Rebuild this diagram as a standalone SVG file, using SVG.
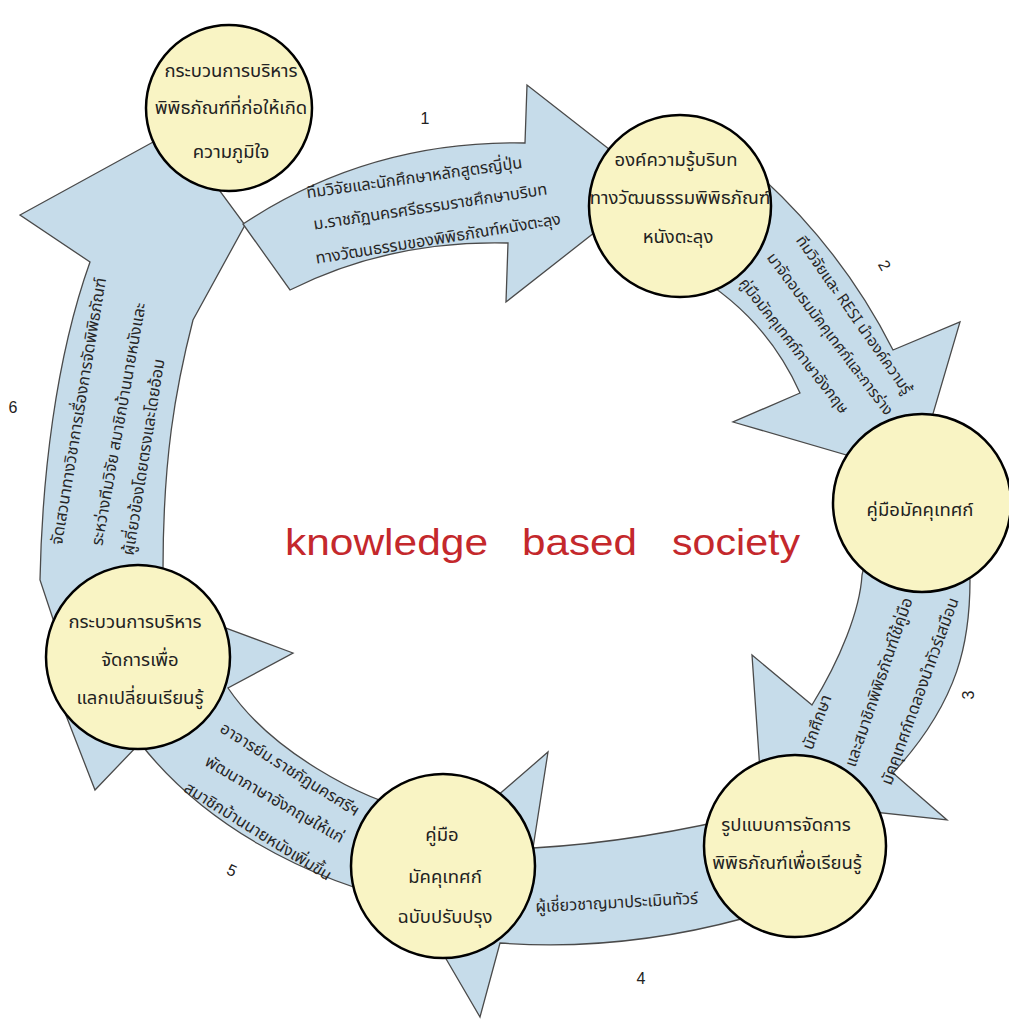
<svg xmlns="http://www.w3.org/2000/svg" width="1009" height="1023" viewBox="0 0 1009 1023">
<style>
.arrow{fill:#c6dcea;stroke:#4a4a4a;stroke-width:1.3;stroke-linejoin:miter}
.node{fill:#f9f4c4;stroke:#000;stroke-width:2.5}
.nt{font-family:"Noto Sans Thai","Noto Sans","DejaVu Sans",sans-serif;font-size:18.5px;fill:#222;text-anchor:middle}
.at{font-family:"Noto Sans Thai","Noto Sans","DejaVu Sans",sans-serif;font-size:16.3px;fill:#262626;text-anchor:middle}
.num{font-family:"Liberation Sans",Arial,sans-serif;font-size:16px;fill:#222;text-anchor:middle}
.title{font-family:"Liberation Sans",Arial,sans-serif;font-size:37px;fill:#c4282c}
</style>
<rect width="1009" height="1023" fill="#ffffff"/>
<g id="connectors">
  <path id="arrow6" class="arrow" d="M20,215 L175,130 L245,225 L193,320 C175,390 163,460 163,570 L170,620 L60,640 L40,580 C42,480 55,360 90,262 Z"/>
  <path id="arrow1" class="arrow" d="M243,224 L290,290 Q390,240 508,243 L506,302 L655,185 L527,85 L525,143 Q370,140 243,224 Z"/>
  <path id="arrow2" class="arrow" d="M730,150 Q835,235 893,350 L960,322 L915,475 L733,422 L800,393 Q765,315 690,272 Z"/>
  <path id="arrow3" class="arrow" d="M870,540 L960,540 L970,580 C970,640 960,700 893,773 L947,820 L762,800 L752,655 L812,705 C840,660 860,610 862,575 Z"/>
  <path id="arrow4" class="arrow" d="M760,812 Q640,842 533,848 L548,752 L400,880 L480,1017 L500,943 Q620,952 745,918 Z"/>
  <path id="arrow5" class="arrow" d="M420,812 C360,800 270,750 228,688 L293,653 L150,600 L62,705 L95,790 L140,743 C200,820 300,880 420,905 Z"/>
</g>
<g id="nodes">
  <g id="node1">
    <circle class="node" cx="229" cy="108" r="83"/>
    <text class="nt" x="231" y="77">กระบวนการบริหาร</text>
    <text class="nt" x="231" y="114">พิพิธภัณฑ์ที่ก่อให้เกิด</text>
    <text class="nt" x="231" y="158">ความภูมิใจ</text>
  </g>
  <g id="node2">
    <circle class="node" cx="680" cy="206" r="91"/>
    <text class="nt" x="676" y="166">องค์ความรู้บริบท</text>
    <text class="nt" x="680" y="204">ทางวัฒนธรรมพิพิธภัณฑ์</text>
    <text class="nt" x="678" y="243">หนังตะลุง</text>
  </g>
  <g id="node3">
    <circle class="node" cx="922" cy="503" r="89"/>
    <text class="nt" x="920" y="516">คู่มือมัคคุเทศก์</text>
  </g>
  <g id="node4">
    <circle class="node" cx="795" cy="846" r="91"/>
    <text class="nt" x="786" y="831">รูปแบบการจัดการ</text>
    <text class="nt" x="787" y="869">พิพิธภัณฑ์เพื่อเรียนรู้</text>
  </g>
  <g id="node5">
    <circle class="node" cx="443" cy="866" r="92"/>
    <text class="nt" x="442" y="841">คู่มือ</text>
    <text class="nt" x="445" y="883">มัคคุเทศก์</text>
    <text class="nt" x="445" y="923">ฉบับปรับปรุง</text>
  </g>
  <g id="node6">
    <circle class="node" cx="138" cy="657" r="92"/>
    <text class="nt" x="135" y="628">กระบวนการบริหาร</text>
    <text class="nt" x="140" y="666">จัดการเพื่อ</text>
    <text class="nt" x="140" y="704">แลกเปลี่ยนเรียนรู้</text>
  </g>
</g>
<g id="connector-labels">
  <text class="at" transform="translate(415,183) rotate(-8)">ทีมวิจัยและนักศึกษาหลักสูตรญี่ปุ่น</text>
  <text class="at" transform="translate(431,212) rotate(-8.6)">ม.ราชภัฏนครศรีธรรมราชศึกษาบริบท</text>
  <text class="at" transform="translate(439,244) rotate(-9.2)">ทางวัฒนธรรมของพิพิธภัณฑ์หนังตะลุง</text>
  <text class="num" x="425" y="124">1</text>

  <text class="at" style="font-size:15.5px" transform="translate(850,318) rotate(55)">ทีมวิจัยและ RESI นำองค์ความรู้</text>
  <text class="at" style="font-size:15.5px" transform="translate(826,337) rotate(53)">มาจัดอบรมมัคคุเทศก์และการร่าง</text>
  <text class="at" style="font-size:15.5px" transform="translate(790,349) rotate(52)">คู่มือมัคคุเทศก์ภาษาอังกฤษ</text>
  <text class="num" transform="translate(885,265) rotate(60)" dy="6">2</text>

  <text class="at" transform="translate(822,724) rotate(-70)">นักศึกษา</text>
  <text class="at" transform="translate(884,684) rotate(-71)">และสมาชิกพิพิธภัณฑ์ใช้คู่มือ</text>
  <text class="at" transform="translate(925,693) rotate(-70)">มัคคุเทศก์ทดลองนำทัวร์เสมือน</text>
  <text class="num" transform="translate(968,695) rotate(-90)" dy="6">3</text>

  <text class="at" transform="translate(617,908) rotate(-3)">ผู้เชี่ยวชาญมาประเมินทัวร์</text>
  <text class="num" x="641" y="984">4</text>

  <text class="at" transform="translate(287,774) rotate(32)">อาจารย์ม.ราชภัฏนครศรีฯ</text>
  <text class="at" transform="translate(272,804) rotate(30)">พัฒนาภาษาอังกฤษให้แก่</text>
  <text class="at" transform="translate(255,836) rotate(32)">สมาชิกบ้านนายหนังเพิ่มขึ้น</text>
  <text class="num" transform="translate(232,870) rotate(25)" dy="6">5</text>

  <text class="at" transform="translate(84,412) rotate(-80.6)">จัดเสวนาทางวิชาการเรื่องการจัดพิพิธภัณฑ์</text>
  <text class="at" transform="translate(124,425) rotate(-79.8)">ระหว่างทีมวิจัย สมาชิกบ้านนายหนังและ</text>
  <text class="at" transform="translate(149,458) rotate(-81)">ผู้เกี่ยวข้องโดยตรงและโดยอ้อม</text>
  <text class="num" x="13" y="413">6</text>
</g>
<g id="title">
  <text class="title" y="555"><tspan x="285" textLength="203" lengthAdjust="spacingAndGlyphs">knowledge</tspan><tspan x="522" textLength="115" lengthAdjust="spacingAndGlyphs">based</tspan><tspan x="672" textLength="128" lengthAdjust="spacingAndGlyphs">society</tspan></text>
</g>
</svg>
